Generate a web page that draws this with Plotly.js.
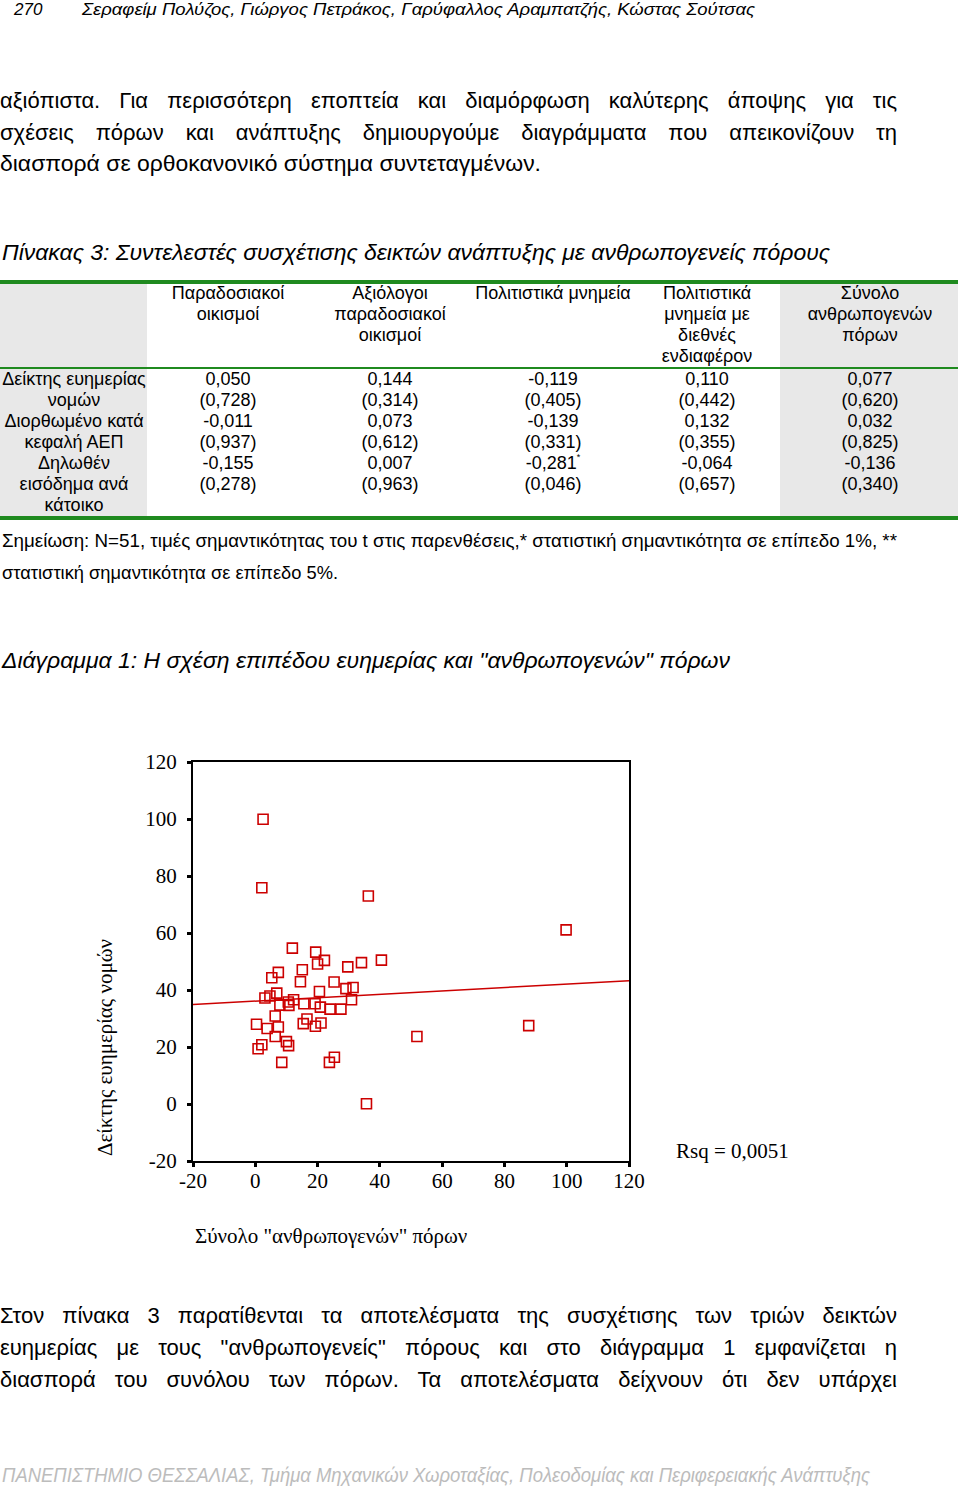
<!DOCTYPE html>
<html>
<head>
<meta charset="utf-8">
<script src="https://cdn.plot.ly/plotly-3.0.1.min.js"></script>
<style>
  html, body { margin:0; padding:0; background:#fff; }
  #page { position:relative; width:960px; height:1491px; overflow:hidden; font-family:"Liberation Sans", Arial, sans-serif; color:#000; }
  .t { position:absolute; white-space:nowrap; line-height:1; transform-origin:0 50%; }
  .fit { display:inline-block; }
  .j { position:absolute; left:0; width:897px; text-align:justify; text-align-last:justify; white-space:nowrap; line-height:1; font-size:22px; }
  .it { font-style:italic; }
  .narrow { font-family:"Liberation Sans Narrow","Arial Narrow","Liberation Sans",sans-serif; }
  .cell { position:absolute; text-align:center; font-size:18px; line-height:21px; white-space:nowrap; transform:translateX(-50%); }
  .cell sup { font-size:9px; line-height:0; position:relative; top:-9px; vertical-align:baseline; }
  .green { position:absolute; left:0; width:958px; background:#1f8a1f; }
  .gray { position:absolute; background:#e8e8e8; }
  #chart { position:absolute; left:0; top:700px; width:960px; height:580px; }
</style>
</head>
<body>
<div id="page">
  <div class="t it" style="left:14px;top:1px;font-size:17px;">270</div>
  <div class="t it fit" data-w="673" style="left:82px;top:1px;font-size:17px;">Σεραφείμ Πολύζος, Γιώργος Πετράκος, Γαρύφαλλος Αραμπατζής, Κώστας Σούτσας</div>

  <div class="j" style="top:90px;">αξιόπιστα. Για περισσότερη εποπτεία και διαμόρφωση καλύτερης άποψης για τις</div>
  <div class="j" style="top:122px;">σχέσεις πόρων και ανάπτυξης δημιουργούμε διαγράμματα που απεικονίζουν τη</div>
  <div class="t fit" data-w="541" style="left:0;top:153px;font-size:22px;">διασπορά σε ορθοκανονικό σύστημα συντεταγμένων.</div>

  <div class="t it fit" data-w="828" style="left:2px;top:242px;font-size:22px;">Πίνακας 3: Συντελεστές συσχέτισης δεικτών ανάπτυξης με ανθρωπογενείς πόρους</div>

  <div id="table"></div>

  <div class="t narrow fit" data-w="895" style="left:2px;top:532px;font-size:18px;">Σημείωση: N=51, τιμές σημαντικότητας του t στις παρενθέσεις,* στατιστική σημαντικότητα σε επίπεδο 1%, **</div>
  <div class="t narrow fit" data-w="336" style="left:2px;top:564px;font-size:18px;">στατιστική σημαντικότητα σε επίπεδο 5%.</div>

  <div class="t it narrow fit" data-w="728" style="left:2px;top:650px;font-size:22px;">Διάγραμμα 1: Η σχέση επιπέδου ευημερίας και "ανθρωπογενών" πόρων</div>

  <div id="chart"></div>

  <div class="j" style="top:1305px;">Στον πίνακα 3 παρατίθενται τα αποτελέσματα της συσχέτισης των τριών δεικτών</div>
  <div class="j" style="top:1337px;">ευημερίας με τους "ανθρωπογενείς" πόρους και στο διάγραμμα 1 εμφανίζεται η</div>
  <div class="j" style="top:1369px;">διασπορά του συνόλου των πόρων. Τα αποτελέσματα δείχνουν ότι δεν υπάρχει</div>

  <div class="t it fit" data-w="868" style="left:2px;top:1465px;font-size:20px;color:#bcbcbc;">ΠΑΝΕΠΙΣΤΗΜΙΟ ΘΕΣΣΑΛΙΑΣ, Τμήμα Μηχανικών Χωροταξίας, Πολεοδομίας και Περιφερειακής Ανάπτυξης</div>
</div>

<script>
// ---------- Table data ----------
const tableHeaders = [
  ["Παραδοσιακοί", "οικισμοί"],
  ["Αξιόλογοι", "παραδοσιακοί", "οικισμοί"],
  ["Πολιτιστικά μνημεία"],
  ["Πολιτιστικά", "μνημεία με", "διεθνές", "ενδιαφέρον"],
  ["Σύνολο", "ανθρωπογενών", "πόρων"]
];
const tableRowLabelLines = ["Δείκτης ευημερίας", "νομών", "Διορθωμένο κατά", "κεφαλή ΑΕΠ", "Δηλωθέν", "εισόδημα ανά", "κάτοικο"];
const corrWelfare   = ["0,050", "0,144", "-0,119", "0,110", "0,077"];
const sigWelfare    = ["(0,728)", "(0,314)", "(0,405)", "(0,442)", "(0,620)"];
const corrGDP       = ["-0,011", "0,073", "-0,139", "0,132", "0,032"];
const sigGDP        = ["(0,937)", "(0,612)", "(0,331)", "(0,355)", "(0,825)"];
const corrIncome    = ["-0,155", "0,007", "-0,281<sup>*</sup>", "-0,064", "-0,136"];
const sigIncome     = ["(0,278)", "(0,963)", "(0,046)", "(0,657)", "(0,340)"];

// ---------- Scatter data (Diagram 1) ----------
const totalResources = [2.5, 2.1, 36.3, 99.8, 11.9, 19.4, 22.2, 20.0, 34.1, 40.5,
  29.7, 15.1, 7.4, 5.3, 14.5, 25.3, 20.6, 29.1, 31.4, 6.9,
  4.7, 3.1, 12.3, 10.6, 7.9, 10.8, 15.6, 19.2, 20.9, 24.0,
  27.5, 30.9, 6.4, 16.6, 0.4, 21.1, 15.4, 19.3, 7.4, 3.8,
  87.8, 51.9, 6.4, 10.0, 10.7, 2.1, 0.9, 25.4, 23.8, 8.5, 35.7];
const welfareIndex = [99.9, 75.9, 73.0, 61.1, 54.7, 53.3, 50.4, 49.1, 49.6, 50.5,
  48.1, 47.1, 46.2, 44.3, 42.9, 42.8, 39.5, 40.5, 40.9, 38.9,
  37.9, 37.2, 36.6, 35.8, 34.7, 34.6, 35.2, 35.2, 34.0, 33.3,
  33.3, 36.6, 30.9, 29.8, 28.0, 28.4, 28.2, 27.3, 27.0, 26.5,
  27.5, 23.7, 23.7, 21.9, 20.5, 20.8, 19.4, 16.4, 14.6, 14.6, 0.1];
const axisTicks = [-20, 0, 20, 40, 60, 80, 100, 120];
const rsqLabel = "Rsq = 0,0051";

// ---------- Build table ----------
(function(){
  const t = document.getElementById('table');
  const colCenters = [228, 390, 553, 707, 870];
  let html = '';
  html += '<div class="gray" style="left:0;top:284px;width:147px;height:232px;"></div>';
  html += '<div class="gray" style="left:780px;top:284px;width:178px;height:232px;"></div>';
  html += '<div class="green" style="top:280px;height:4px;"></div>';
  html += '<div class="green" style="top:367px;height:2px;"></div>';
  html += '<div class="green" style="top:516px;height:4px;"></div>';
  tableHeaders.forEach((lines, i) => {
    html += `<div class="cell" style="left:${colCenters[i]}px;top:283px;">${lines.join('<br>')}</div>`;
  });
  html += `<div class="cell" style="left:74px;top:369px;">${tableRowLabelLines.join('<br>')}</div>`;
  for (let i = 0; i < 5; i++) {
    const col = [corrWelfare[i], sigWelfare[i], corrGDP[i], sigGDP[i], corrIncome[i], sigIncome[i]];
    html += `<div class="cell" style="left:${colCenters[i]}px;top:369px;">${col.join('<br>')}</div>`;
  }
  t.innerHTML = html;
})();

// ---------- Fit text widths ----------
document.querySelectorAll('.fit').forEach(el => {
  const w = +el.dataset.w;
  const r = el.getBoundingClientRect().width;
  if (r > 0) el.style.transform = `scaleX(${w / r})`;
});

// ---------- Regression (OLS) ----------
const n = totalResources.length;
const mx = totalResources.reduce((a,b)=>a+b,0)/n;
const my = welfareIndex.reduce((a,b)=>a+b,0)/n;
let sxy = 0, sxx = 0;
for (let i = 0; i < n; i++) { sxy += (totalResources[i]-mx)*(welfareIndex[i]-my); sxx += (totalResources[i]-mx)**2; }
const slope = sxy/sxx, intercept = my - slope*mx;
const lineX = [axisTicks[0], axisTicks[axisTicks.length-1]];
const lineY = lineX.map(x => intercept + slope*x);

const red = 'rgb(204,0,0)';
const serif = '"Liberation Serif", "Times New Roman", serif';

Plotly.newPlot('chart', [
  { x: lineX, y: lineY, mode: 'lines', line: { color: red, width: 1.5 }, hoverinfo: 'skip' },
  { x: totalResources, y: welfareIndex, mode: 'markers',
    marker: { symbol: 'square-open', size: 10, color: red, line: { color: red, width: 1.6 } } }
], {
  width: 960, height: 580,
  margin: { l: 193, r: 331, t: 62, b: 119 },
  showlegend: false,
  paper_bgcolor: 'rgba(0,0,0,0)', plot_bgcolor: '#fff',
  xaxis: {
    range: [-20, 120], tickvals: axisTicks, ticktext: axisTicks.map(String),
    showgrid: false, zeroline: false, showline: true, mirror: true,
    linecolor: '#000', linewidth: 2, ticks: 'outside', ticklen: 4, tickwidth: 3, tickcolor: '#000',
    tickfont: { family: serif, size: 21, color: '#000' }, ticklabelstandoff: -4
  },
  yaxis: {
    range: [-20, 120], tickvals: axisTicks, ticktext: axisTicks.map(String),
    showgrid: false, zeroline: false, showline: true, mirror: true,
    linecolor: '#000', linewidth: 2, ticks: 'outside', ticklen: 4, tickwidth: 3, tickcolor: '#000',
    tickfont: { family: serif, size: 21, color: '#000' }, ticklabelstandoff: 6
  },
  annotations: [
    { text: 'Δείκτης ευημερίας νομών', textangle: -90, xref: 'paper', yref: 'paper',
      x: 0, xshift: -88, y: 0.283, xanchor: 'center', yanchor: 'middle', showarrow: false,
      font: { family: serif, size: 21, color: '#000' } },
    { text: 'Σύνολο "ανθρωπογενών" πόρων', xref: 'paper', yref: 'paper',
      x: 0, y: 0, xanchor: 'left', yanchor: 'middle', yshift: -75, xshift: 0, showarrow: false,
      font: { family: serif, size: 21, color: '#000' } },
    { text: rsqLabel, xref: 'paper', yref: 'paper',
      x: 1, y: 0, xanchor: 'left', yanchor: 'middle', xshift: 45, yshift: 10, showarrow: false,
      font: { family: serif, size: 21, color: '#000' } }
  ]
}, { staticPlot: true, displayModeBar: false });
</script>
</body>
</html>
